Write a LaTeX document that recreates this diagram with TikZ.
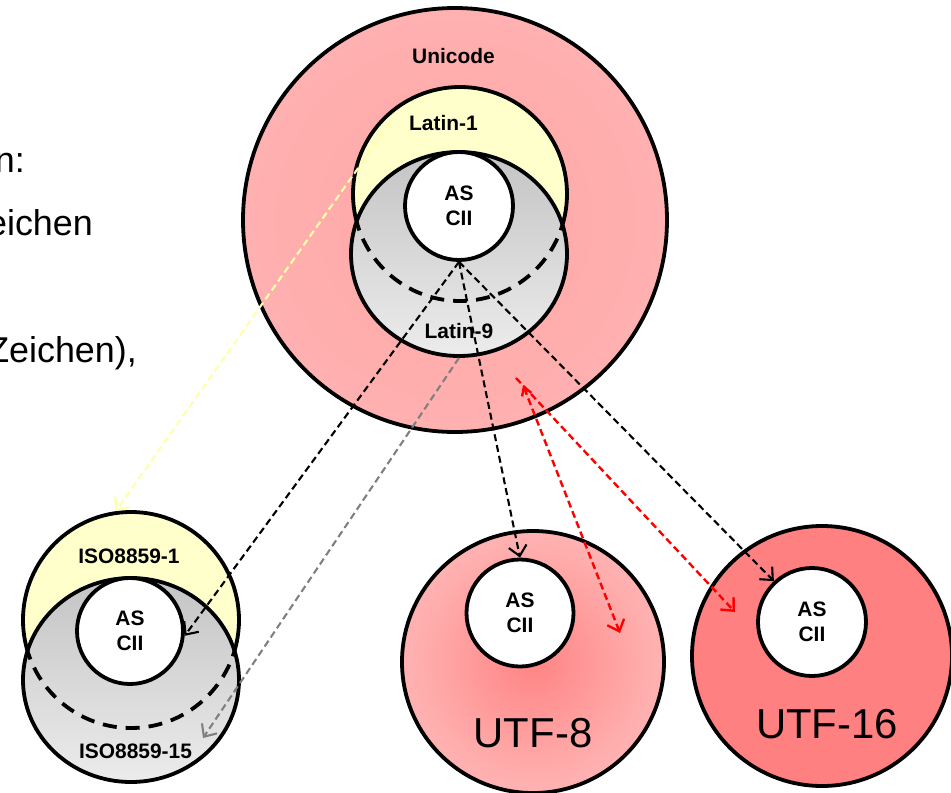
\documentclass[tikz,border=0pt]{standalone}
\usepackage{fontspec}
\setmainfont{Liberation Sans}
\usetikzlibrary{arrows.meta,shapes.geometric}
\definecolor{uniIn}{RGB}{255,166,166}
\definecolor{uniMid}{RGB}{255,176,176}
\definecolor{uniOut}{RGB}{255,198,198}
\definecolor{uEightIn}{RGB}{255,132,132}
\definecolor{uEightMid}{RGB}{255,174,174}
\definecolor{uEightOut}{RGB}{255,204,204}
\definecolor{uSixteen}{RGB}{255,128,128}
\definecolor{latYellow}{RGB}{255,255,204}
\definecolor{greyTop}{RGB}{196,196,196}
\definecolor{greyBot}{RGB}{236,236,236}
\definecolor{arrYellow}{RGB}{255,255,170}
\definecolor{arrGrey}{RGB}{128,128,128}
\definecolor{arrRed}{RGB}{255,0,0}
\pgfdeclareradialshading{uniShade}{\pgfpoint{0bp}{0bp}}{color(0bp)=(uniIn); color(25bp)=(uniMid); color(50bp)=(uniOut)}
\pgfdeclareradialshading{utfShade}{\pgfpoint{0bp}{0bp}}{color(0bp)=(uEightIn); color(22bp)=(uEightMid); color(50bp)=(uEightOut)}
\tikzset{
  ring/.style={circle, draw, line width=3.8bp, inner sep=0pt},
  oval/.style={ellipse, draw, line width=3.8bp, inner sep=0pt},
  asciinode/.style={ring, fill=white, minimum size=108bp, align=center,
    font=\fontsize{21}{25}\selectfont\bfseries},
  lbl/.style={anchor=base, inner sep=0pt, font=\fontsize{21}{25}\selectfont\bfseries},
  biglbl/.style={anchor=base, inner sep=0pt, font=\fontsize{42}{50}\selectfont},
  side/.style={anchor=base east, inner sep=0pt, font=\fontsize{36}{44}\selectfont},
  dasharc/.style={line width=3.8bp, dash pattern=on 14bp off 9bp},
  conn/.style={line width=2.1bp, dash pattern=on 7bp off 4bp,
    -{Straight Barb[length=10bp,width=18bp]}},
  dconn/.style={line width=2.1bp, dash pattern=on 7bp off 4bp,
    {Straight Barb[length=8bp,width=10bp]}-{Straight Barb[length=10bp,width=18bp]}},
}
\begin{document}
\begin{tikzpicture}[x=1bp,y=-1bp]
\clip (0,0) rectangle (951,793);

% side text (cut off at the left edge, as in the reference)
\node[side] (s1) at (25,172) {n:};
\node[side] (s2) at (93,235) {eichen};
\node[side] (s3) at (137,362) {Zeichen),};

% Unicode group
\node[ring, shade, shading=uniShade, minimum size=424bp] (uni) at (455,220) {};
\node[ring, fill=latYellow, minimum size=214bp] (lat1) at (460,194) {};
\node[oval, top color=greyTop, bottom color=greyBot, minimum width=216bp, minimum height=204bp] (lat9) at (459,254) {};
\begin{scope}
  \clip (lat9.center) ellipse [x radius=108, y radius=102];
  \draw[dasharc] (lat1.center) circle [radius=107];
\end{scope}
\node[asciinode] (a1) at (459,206) {AS\\CII};
\node[lbl] (tUni) at (453.5,64) {Unicode};
\node[lbl] (tLat1) at (443.5,130) {Latin-1};
\node[lbl] (tLat9) at (459,338) {Latin-9};

% ISO group
\node[ring, fill=latYellow, minimum size=216bp] (iso1) at (131,620) {};
\node[oval, top color=greyTop, bottom color=greyBot, minimum width=216bp, minimum height=204bp] (iso15) at (131,680) {};
\begin{scope}
  \clip (iso15.center) ellipse [x radius=108, y radius=102];
  \draw[dasharc] (iso1.center) circle [radius=108];
\end{scope}
\node[asciinode, minimum size=106bp] (a2) at (130,631) {AS\\CII};
\node[lbl] (tIso1) at (129,563) {ISO8859-1};
\node[lbl] (tIso15) at (135.5,758) {ISO8859-15};

% UTF-8
\node[ring, shade, shading=utfShade, minimum size=262bp] (utf8) at (533,662) {};
\node[asciinode, minimum size=107bp] (a3) at (520,613) {AS\\CII};
\node[biglbl] (tU8) at (533,747) {UTF-8};

% UTF-16
\node[ring, fill=uSixteen, minimum size=260bp] (utf16) at (822,656) {};
\node[asciinode] (a4) at (812,622) {AS\\CII};
\node[biglbl] (tU16) at (827,738) {UTF-16};

% connectors
\coordinate (yStart) at (390,123);
\coordinate (gEnd) at (203,738);
\coordinate (rOneStart) at (516,378);
\coordinate (rOneEnd) at (735,612);
\coordinate (rTwoStart) at (523,385);
\coordinate (rTwoEnd) at (620,633);

\draw[conn, arrYellow] (yStart) -- (iso1.98);
\draw[conn] (a1.south) -- (a2.-5);
\draw[conn, arrGrey] (lat9.south) -- (gEnd);
\draw[conn] (a1.south) -- (a3.north);
\draw[conn] (a1.south) -- (a4.133);
\draw[conn, arrRed, line width=2.4bp] (rOneStart) -- (rOneEnd);
\draw[dconn, arrRed, line width=2.4bp] (rTwoStart) -- (rTwoEnd);
\end{tikzpicture}
\end{document}
